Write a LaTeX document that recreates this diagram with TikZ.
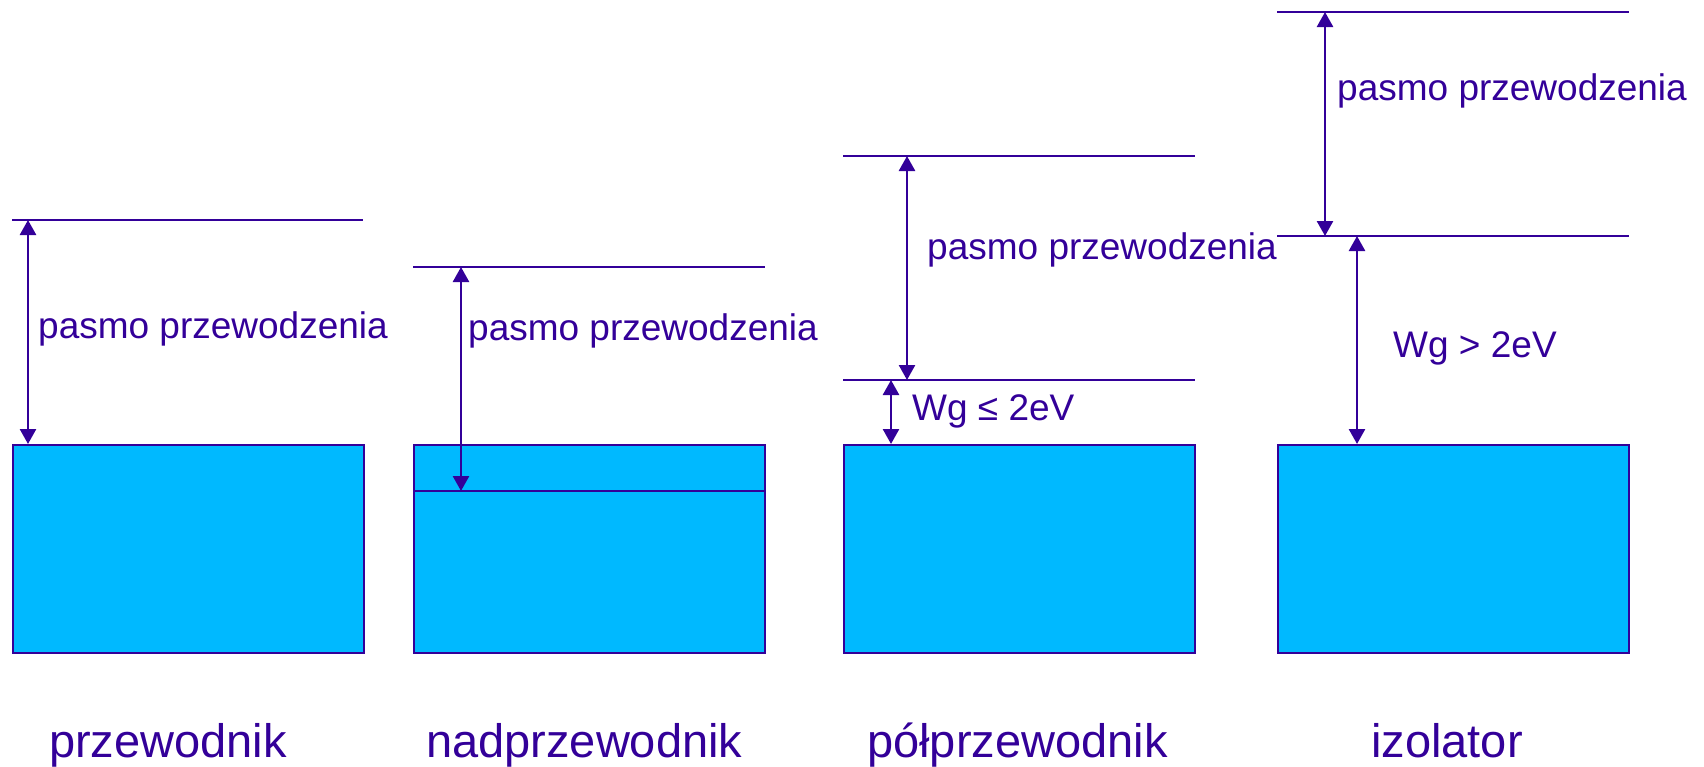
\documentclass[tikz,border=0pt]{standalone}
\usepackage{fontspec}
\setmainfont{Liberation Sans}
\usetikzlibrary{arrows.meta}
\definecolor{ink}{RGB}{51,0,153}
\definecolor{band}{RGB}{0,185,255}
\begin{document}
\begin{tikzpicture}[x=1pt,y=-1pt,
  bandbox/.style={draw=ink,fill=band,line width=2pt,minimum width=351pt,minimum height=208pt,anchor=north west,inner sep=0pt},
  level/.style={draw=ink,line width=1.6pt},
  gap/.style={draw=ink,line width=2.6pt,{Triangle[width=16pt,length=15pt]}-{Triangle[width=16pt,length=15pt]}},
  lbl/.style={text=ink,font=\fontsize{37}{44}\selectfont,anchor=base west,inner sep=0pt},
  title/.style={text=ink,font=\fontsize{47}{56}\selectfont,anchor=base west,inner sep=0pt}]
\useasboundingbox (0,0) rectangle (1704,766);

% valence bands
\node[bandbox] (b1) at (12,444) {};
\node[bandbox] (b2) at (413,444) {};
\node[bandbox] (b3) at (843,444) {};
\node[bandbox] (b4) at (1277,444) {};

% przewodnik
\coordinate (t1l) at (12,220);
\coordinate (t1r) at (363,220);
\draw[level] (t1l) -- (t1r);
\coordinate (a1) at (28,220);
\draw[gap] (a1) -- (a1 |- b1.north);
\node[lbl] (p1) at (38,338) {pasmo przewodzenia};
\node[title] (n1) at (49,757) {przewodnik};

% nadprzewodnik
\coordinate (t2l) at (413,267);
\coordinate (t2r) at (765,267);
\draw[level] (t2l) -- (t2r);
\coordinate (m2l) at (413,491);
\coordinate (m2r) at (765,491);
\draw[draw=ink,line width=2pt] (m2l) -- (m2r);
\coordinate (a2) at (461,267);
\draw[gap] (a2) -- (a2 |- m2l);
\node[lbl] (p2) at (468,340) {pasmo przewodzenia};
\node[title] (n2) at (426,757) {nadprzewodnik};

% półprzewodnik
\coordinate (t3l) at (843,156);
\coordinate (t3r) at (1195,156);
\coordinate (m3l) at (843,380);
\coordinate (m3r) at (1195,380);
\draw[level] (t3l) -- (t3r);
\draw[level] (m3l) -- (m3r);
\coordinate (a3) at (907,156);
\draw[gap] (a3) -- (a3 |- m3l);
\coordinate (g3) at (891,380);
\draw[gap] (g3) -- (g3 |- b3.north);
\node[lbl] (p3) at (927,259) {pasmo przewodzenia};
\node[lbl] (w3) at (912,420) {Wg ≤ 2eV};
\node[title] (n3) at (867,757) {półprzewodnik};

% izolator
\coordinate (t4l) at (1277,12);
\coordinate (t4r) at (1629,12);
\coordinate (m4l) at (1277,236);
\coordinate (m4r) at (1629,236);
\draw[level] (t4l) -- (t4r);
\draw[level] (m4l) -- (m4r);
\coordinate (a4) at (1325,12);
\draw[gap] (a4) -- (a4 |- m4l);
\coordinate (g4) at (1357,236);
\draw[gap] (g4) -- (g4 |- b4.north);
\node[lbl] (p4) at (1337,100) {pasmo przewodzenia};
\node[lbl] (w4) at (1393,357) {Wg > 2eV};
\node[title] (n4) at (1371,757) {izolator};
\end{tikzpicture}
\end{document}
